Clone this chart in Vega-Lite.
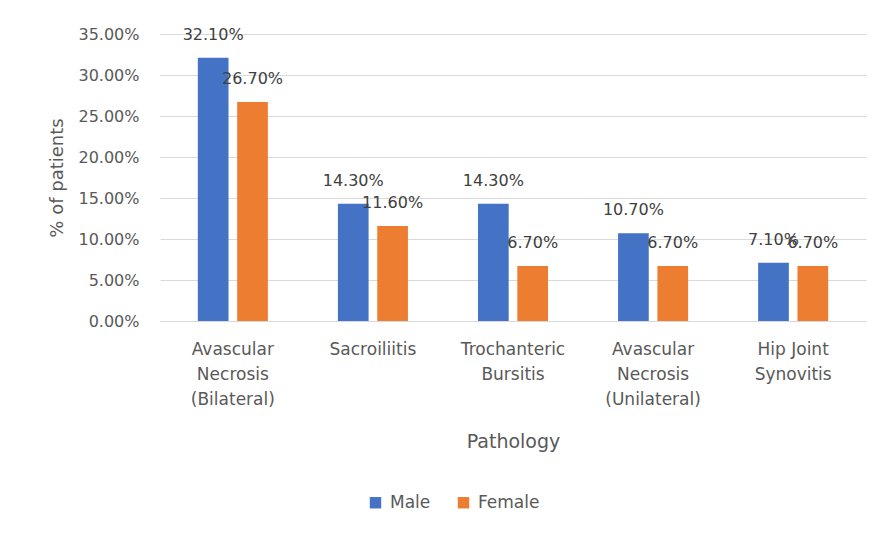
{
  "$schema": "https://vega.github.io/schema/vega-lite/v6.json",
  "autosize": {"type": "none"},
  "padding": {"left": 160, "top": 34, "right": 13, "bottom": 213},
  "width": 706,
  "height": 287,
  "background": "white",
  "data": {
    "values": [
      {"pathology": "Avascular|Necrosis|(Bilateral)", "sex": "Male", "value": 0.321},
      {"pathology": "Avascular|Necrosis|(Bilateral)", "sex": "Female", "value": 0.267},
      {"pathology": "Sacroiliitis", "sex": "Male", "value": 0.143},
      {"pathology": "Sacroiliitis", "sex": "Female", "value": 0.116},
      {"pathology": "Trochanteric|Bursitis", "sex": "Male", "value": 0.143},
      {"pathology": "Trochanteric|Bursitis", "sex": "Female", "value": 0.067},
      {"pathology": "Avascular|Necrosis|(Unilateral)", "sex": "Male", "value": 0.107},
      {"pathology": "Avascular|Necrosis|(Unilateral)", "sex": "Female", "value": 0.067},
      {"pathology": "Hip Joint|Synovitis", "sex": "Male", "value": 0.071},
      {"pathology": "Hip Joint|Synovitis", "sex": "Female", "value": 0.067}
    ]
  },
  "encoding": {
    "x": {
      "field": "pathology",
      "type": "nominal",
      "sort": null,
      "scale": {"paddingInner": 0.5, "paddingOuter": 0.27},
      "axis": {
        "title": "Pathology",
        "labelAngle": 0,
        "labelExpr": "split(datum.label, '|')",
        "labelLineHeight": 25,
        "labelBaseline": "top",
        "labelPadding": 20,
        "labelFontSize": 17,
        "ticks": false,
        "domainColor": "#D9D9D9",
        "titlePadding": 25,
        "titleFontSize": 19
      }
    },
    "xOffset": {
      "field": "sex",
      "type": "nominal",
      "sort": ["Male", "Female"],
      "scale": {"paddingInner": 0.22}
    },
    "y": {
      "field": "value",
      "type": "quantitative",
      "scale": {"domain": [0, 0.35]},
      "axis": {
        "title": "% of patients",
        "format": ".2%",
        "values": [0, 0.05, 0.1, 0.15, 0.2, 0.25, 0.3, 0.35],
        "domain": false,
        "ticks": false,
        "labelPadding": 21,
        "labelFontSize": 16,
        "titlePadding": 11,
        "titleFontSize": 18,
        "gridColor": "#D9D9D9"
      }
    }
  },
  "layer": [
    {
      "mark": {"type": "bar"},
      "encoding": {
        "color": {
          "field": "sex",
          "type": "nominal",
          "scale": {"domain": ["Male", "Female"], "range": ["#4472C4", "#ED7D31"]},
          "legend": {
            "title": null,
            "orient": "none",
            "direction": "horizontal",
            "legendX": 207,
            "legendY": 460,
            "symbolType": "square",
            "symbolSize": 130,
            "symbolStrokeWidth": 0,
            "labelFontSize": 17,
            "labelOffset": 6,
            "columnPadding": 24,
            "padding": 0
          }
        }
      }
    },
    {
      "mark": {"type": "text", "baseline": "middle", "dy": -23, "fontSize": 16, "color": "#404040"},
      "encoding": {
        "text": {"field": "value", "type": "quantitative", "format": ".2%"}
      }
    }
  ],
  "config": {
    "font": "DejaVu Sans",
    "view": {"stroke": null},
    "axis": {
      "labelFont": "DejaVu Sans",
      "titleFont": "DejaVu Sans",
      "titleFontWeight": "normal",
      "labelColor": "#595959",
      "titleColor": "#595959"
    },
    "legend": {"labelFont": "DejaVu Sans", "labelColor": "#595959"},
    "text": {"font": "DejaVu Sans"}
  }
}
